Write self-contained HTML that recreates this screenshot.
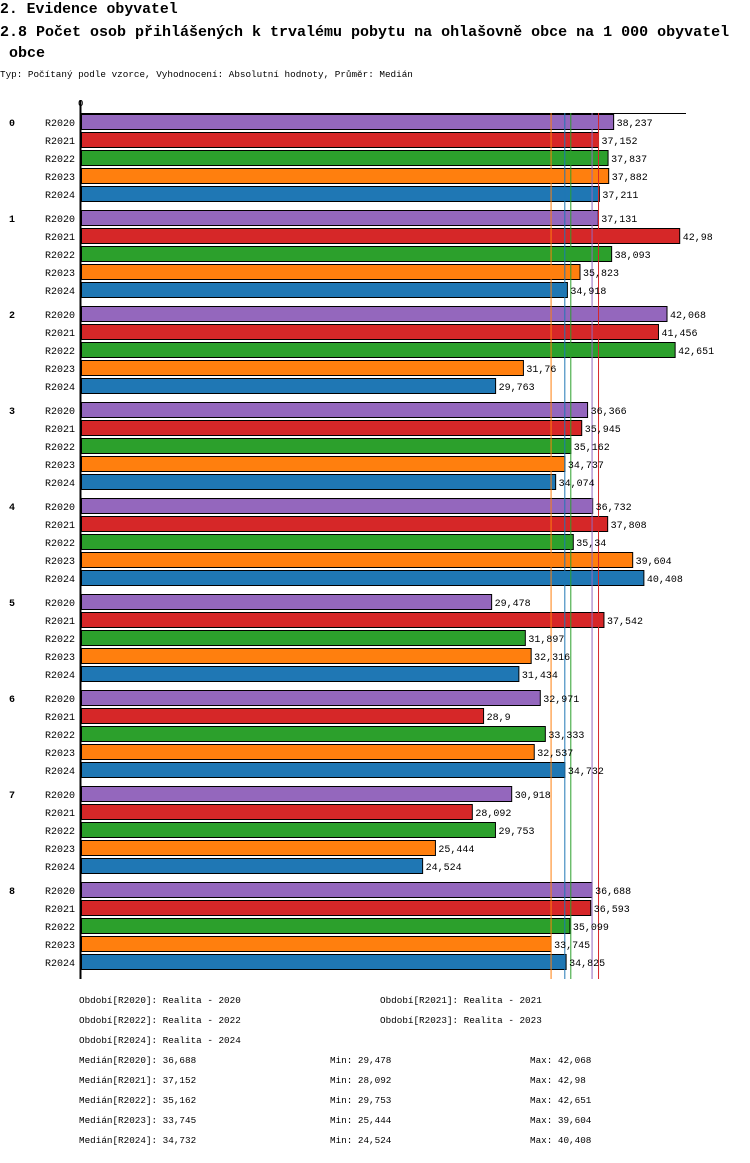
<!DOCTYPE html>
<html><head><meta charset="utf-8"><style>
body{margin:0;background:#fff;width:750px;height:1158px;overflow:hidden;font-family:"Liberation Mono",monospace;}
svg text{font-family:"Liberation Mono","DejaVu Sans Mono",monospace;fill:#000;}
</style></head><body>
<svg id="chart" width="750" height="1158" xmlns="http://www.w3.org/2000/svg">
<text x="0" y="13" font-size="14.8" font-weight="bold">2. Evidence obyvatel</text>
<text x="0" y="36" font-size="15" font-weight="bold">2.8 Počet osob přihlášených k trvalému pobytu na ohlašovně obce na 1 000 obyvatel</text>
<text x="9" y="57" font-size="15" font-weight="bold">obce</text>
<text x="0" y="77" font-size="9.3">Typ: Počítaný podle vzorce, Vyhodnocení: Absolutní hodnoty, Průměr: Medián</text>
<g id="bars"></g>
<g id="lines"></g>
<g id="labels"></g>
<g id="footer"></g>
</svg>
<script>
const groups=["0","1","2","3","4","5","6","7","8"];
const series=["R2020","R2021","R2022","R2023","R2024"];
const colors=["#9467bd","#d62728","#2ca02c","#ff7f0e","#1f77b4"];
const r2020=[38.237,37.131,42.068,36.366,36.732,29.478,32.971,30.918,36.688];
const r2021=[37.152,42.98,41.456,35.945,37.808,37.542,28.9,28.092,36.593];
const r2022=[37.837,38.093,42.651,35.162,35.34,31.897,33.333,29.753,35.099];
const r2023=[37.882,35.823,31.76,34.737,39.604,32.316,32.537,25.444,33.745];
const r2024=[37.211,34.918,29.763,34.074,40.408,31.434,34.732,24.524,34.825];
const medians=[36.688,37.152,35.162,33.745,34.732];
const mins=["29,478","28,092","29,753","25,444","24,524"];
const maxs=["42,068","42,98","42,651","39,604","40,408"];
const periods=["Realita - 2020","Realita - 2021","Realita - 2022","Realita - 2023","Realita - 2024"];
const vals=[r2020,r2021,r2022,r2023,r2024];
const NS="http://www.w3.org/2000/svg";
const x=v=>81+v*13.93;
const rowY=(g,s)=>114+g*96+s*18;
const fmt=v=>String(v).replace('.',',');
const B=document.getElementById('bars');
const L=document.getElementById('lines');
const T=document.getElementById('labels');
function mk(t,a,p){const e=document.createElementNS(NS,t);for(const k in a)e.setAttribute(k,a[k]);(p||B).appendChild(e);return e;}
let t=mk('text',{x:78,y:106,'font-size':9},T);t.textContent='0';


let ax=mk('line',{x1:80,y1:113.5,x2:686,y2:113.5,stroke:'#000','stroke-width':1});


let ay=mk('line',{x1:80.5,y1:100,x2:80.5,y2:979,stroke:'#000','stroke-width':2});


groups.forEach((g,gi)=>{
  let gl=mk('text',{x:9,y:rowY(gi,0)+12,'font-size':10,'font-weight':'bold'},T);gl.textContent=g;
  
  
  series.forEach((s,si)=>{
    const y=rowY(gi,si),v=vals[si][gi];
    let l=mk('text',{x:75,y:y+12,'font-size':10,'text-anchor':'end'},T);l.textContent=s;
    
    
    let r=mk('rect',{x:81.5,y:y+0.5,width:x(v)-81.5,height:15,fill:colors[si],stroke:'#000','stroke-width':1});
    
    
    let vl=mk('text',{x:x(v)+3,y:y+12,'font-size':10},T);vl.textContent=fmt(v);
    
    
  });
});
medians.forEach((m,i)=>{
  let l=mk('line',{x1:x(m),y1:113,x2:x(m),y2:979,stroke:colors[i],'stroke-width':1},L);
  
  
});
const F=document.getElementById('footer');
function ft(xx,yy,s,n){let e=mk('text',{x:xx,y:yy,'font-size':9.3},F);e.textContent=s;
  
  }
series.forEach((s,i)=>{
  ft(i%2?380:79,1003+Math.floor(i/2)*20,'Období['+s+']: '+periods[i],'legend-entry');
  const yy=1063+i*20;
  ft(79,yy,'Medián['+s+']: '+fmt(medians[i]),'median-stat');
  ft(330,yy,'Min: '+mins[i],'min-stat');
  ft(530,yy,'Max: '+maxs[i],'max-stat');
});
</script>
</body></html>
